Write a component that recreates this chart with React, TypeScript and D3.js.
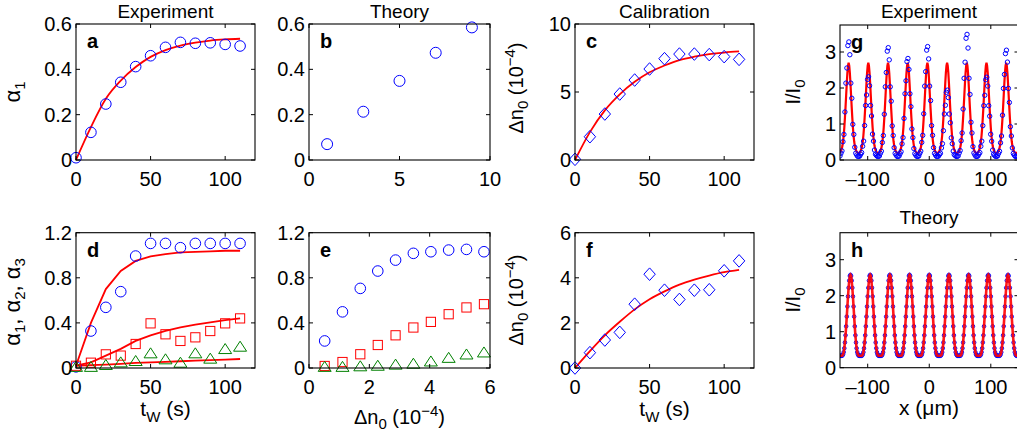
import React from "react";
import * as d3 from "d3";

const FONT = "'Liberation Sans', Arial, Helvetica, sans-serif";
const BLUE = "#0000ff";
const RED = "#ff0000";
const GREEN = "#008000";

// exposure times shared by panels a, c, d, f
const tW = [0, 10, 20, 30, 40, 50, 60, 70, 80, 90, 100, 110];

// a: alpha1 vs tW (experiment) and fit
const aAlpha1 = [0.01, 0.122, 0.247, 0.343, 0.412, 0.46, 0.497, 0.519, 0.515, 0.517, 0.51, 0.503];
const aFit = [0, 0.145, 0.27, 0.35, 0.41, 0.455, 0.485, 0.505, 0.518, 0.527, 0.532, 0.535];

// b: alpha1 vs dn0 (theory)
const bDn = [1, 3, 5, 7, 9];
const bAlpha1 = [0.07, 0.213, 0.349, 0.473, 0.585];

// c: calibration dn0 vs tW
const cDn = [0.05, 1.71, 3.38, 4.85, 5.88, 6.69, 7.45, 7.79, 7.79, 7.75, 7.6, 7.4];
const cFit = [0, 2.05, 3.65, 4.83, 5.75, 6.45, 6.95, 7.35, 7.6, 7.78, 7.9, 7.98];

// d: alpha1..3 vs tW
const dAlpha1 = [0.01, 0.328, 0.538, 0.677, 0.993, 1.105, 1.105, 1.067, 1.105, 1.105, 1.105, 1.105];
const dAlpha2 = [0.02, 0.047, 0.121, 0.11, 0.213, 0.396, 0.299, 0.24, 0.272, 0.328, 0.396, 0.44];
const dAlpha3 = [0.01, 0.01, 0.027, 0.05, 0.062, 0.13, 0.077, 0.047, 0.13, 0.083, 0.168, 0.189];
const dFit1 = [0.02, 0.4, 0.7, 0.86, 0.95, 0.99, 1.01, 1.025, 1.03, 1.035, 1.04, 1.04];
const dFit2 = [0.02, 0.05, 0.11, 0.17, 0.24, 0.29, 0.33, 0.36, 0.385, 0.405, 0.425, 0.44];
const dFit3 = [0.02, 0.025, 0.03, 0.037, 0.045, 0.05, 0.055, 0.06, 0.065, 0.07, 0.075, 0.08];

// e: alpha1..3 vs dn0 (theory)
const eDn = [0.52, 1.11, 1.7, 2.28, 2.87, 3.46, 4.04, 4.63, 5.22, 5.8];
const eAlpha1 = [0.24, 0.498, 0.706, 0.86, 0.957, 1.017, 1.031, 1.046, 1.052, 1.031];
const eAlpha2 = [0.018, 0.053, 0.122, 0.204, 0.29, 0.359, 0.409, 0.477, 0.537, 0.566];
const eAlpha3 = [0.01, 0.01, 0.015, 0.02, 0.03, 0.038, 0.058, 0.09, 0.12, 0.138];

// f: calibration dn0 vs tW
const fDn = [0, 0.68, 1.24, 1.58, 2.83, 4.16, 3.45, 3.04, 3.45, 3.47, 4.31, 4.75];
const fFit = [0, 0.75, 1.45, 2.05, 2.6, 3.05, 3.4, 3.7, 3.92, 4.1, 4.25, 4.35];

// g: measured fringes; fit profile vs distance from peak (um, 0..16)
const gPeaks = [-131, -99, -67, -35, -3, 29, 61, 93, 125];
const gFitProfile = [2.7, 2.62, 2.42, 2.13, 1.8, 1.47, 1.17, 0.9, 0.68, 0.52, 0.4, 0.32, 0.27, 0.23, 0.21, 0.2, 0.2];
const gDataHeights = [3.28, 2.31, 3.12, 2.82, 3.15, 1.94, 3.49, 2.3, 3.05];
const gDataBase = 0.1;

// h: theory fringes; profile vs distance from peak (um, 0..16)
const hPeaks = [-128, -96, -64, -32, 0, 32, 64, 96, 128];
const hProfile = [2.58, 2.55, 2.42, 2.22, 1.98, 1.7, 1.42, 1.15, 0.9, 0.7, 0.54, 0.43, 0.37, 0.34, 0.33, 0.33, 0.33];

const xTicksT = [0, 50, 100];
const xTicksB = [0, 5, 10];
const xTicksE = [0, 2, 4, 6];
const xTicksX = [-100, 0, 100];
const yTicksA = [0, 0.2, 0.4, 0.6];
const yTicksC = [0, 5, 10];
const yTicksD = [0, 0.4, 0.8, 1.2];
const yTicksF = [0, 2, 4, 6];
const yTicksI = [0, 1, 2, 3];

const fmt = (v: number) => (v < 0 ? "\u2013" + Math.abs(v) : String(v));

function Axes({ x, y, xTicks, yTicks, letter, children }: any) {
  const [x0, x1] = x.range();
  const [y1, y0] = y.range();
  const tl = 4;
  return (
    <g>
      {children}
      <rect x={x0} y={y0} width={x1 - x0} height={y1 - y0} fill="none" stroke="#000" strokeWidth={1.1} />
      {xTicks.map((t: number) => (
        <g key={"x" + t}>
          <line x1={x(t)} x2={x(t)} y1={y1} y2={y1 - tl} stroke="#000" />
          <line x1={x(t)} x2={x(t)} y1={y0} y2={y0 + tl} stroke="#000" />
          <text x={x(t)} y={y1 + 26} textAnchor="middle" fontSize={20}>{fmt(t)}</text>
        </g>
      ))}
      {yTicks.map((t: number) => (
        <g key={"y" + t}>
          <line x1={x0} x2={x0 + tl} y1={y(t)} y2={y(t)} stroke="#000" />
          <line x1={x1} x2={x1 - tl} y1={y(t)} y2={y(t)} stroke="#000" />
          <text x={x0 - 4} y={y(t) + 7} textAnchor="end" fontSize={20}>{fmt(t)}</text>
        </g>
      ))}
      <text x={x0 + 11} y={y0 + 24} fontSize={20} fontWeight="bold">{letter}</text>
    </g>
  );
}

const circle = (cx: number, cy: number, k: any, r = 5.3) => (
  <circle key={k} cx={cx} cy={cy} r={r} fill="none" stroke={BLUE} strokeWidth={1} />
);
const square = (cx: number, cy: number, k: any) => (
  <rect key={k} x={cx - 4.6} y={cy - 4.6} width={9.2} height={9.2} fill="none" stroke={RED} strokeWidth={1} />
);
const triangle = (cx: number, cy: number, k: any) => (
  <path key={k} d={`M${cx},${cy - 5.5}L${cx + 6.5},${cy + 4.5}L${cx - 6.5},${cy + 4.5}Z`} fill="none" stroke={GREEN} strokeWidth={1} />
);
const diamond = (cx: number, cy: number, k: any) => (
  <path key={k} d={`M${cx},${cy - 6.3}L${cx + 5.7},${cy}L${cx},${cy + 6.3}L${cx - 5.7},${cy}Z`} fill="none" stroke={BLUE} strokeWidth={1} />
);

function fitPath(x: any, y: any, xs: number[], ys: number[], curve: any) {
  return d3.line<number>().x((_, i) => x(xs[i])).y((v) => y(v)).curve(curve)(ys) || "";
}

const sub = (s: string) => <tspan fontSize={15} dy={5}>{s}</tspan>;

const DnLabel = ({ transform, x, y }: any) => (
  <text transform={transform} x={x} y={y} textAnchor="middle" fontSize={20}>
    Δn{sub("0")}<tspan dy={-5}> (10</tspan><tspan fontSize={15} dy={-8}>−4</tspan><tspan dy={8}>)</tspan>
  </text>
);

export default function App() {
  const top = [24, 160];
  const bot = [232.7, 368];
  const xT = (a: number, b: number) => d3.scaleLinear().domain([0, 120]).range([a, b]);

  const xa = xT(76, 255), ya = d3.scaleLinear().domain([0, 0.6]).range([top[1], top[0]]);
  const xb = d3.scaleLinear().domain([0, 10]).range([309, 490]), yb = ya.copy();
  const xc = xT(575, 754), yc = d3.scaleLinear().domain([0, 10]).range([top[1], top[0]]);
  const xg = d3.scaleLinear().domain([-145, 145]).range([840, 1018.5]);
  const yg = d3.scaleLinear().domain([0, 3.75]).range([160, 25]);
  const xd = xT(76, 255), yd = d3.scaleLinear().domain([0, 1.2]).range([bot[1], bot[0]]);
  const xe = d3.scaleLinear().domain([0, 6]).range([309, 490]), ye = yd.copy();
  const xf = xT(575, 754), yf = d3.scaleLinear().domain([0, 6]).range([bot[1], bot[0]]);
  const xh = xg.copy();
  const yh = d3.scaleLinear().domain([0, 3.75]).range([367.7, 232.7]);

  // fringe samples built from the read peak positions and profiles
  const dist = (v: number, peaks: number[]) => d3.min(peaks, (p) => Math.abs(v - p)) as number;
  const nearestIdx = (v: number, peaks: number[]) => d3.minIndex(peaks, (p) => Math.abs(v - p));
  const xsLine = d3.range(-145, 146, 1);
  const gLine = xsLine.map((v) => [v, gFitProfile[Math.min(16, Math.round(dist(v, gPeaks)))]]);
  const gMin = gFitProfile[16], gMax = gFitProfile[0];
  const gData = d3.range(-145, 146, 1.6).map((v) => {
    const k = nearestIdx(v, gPeaks);
    const n = (gFitProfile[Math.min(16, Math.round(dist(v, gPeaks)))] - gMin) / (gMax - gMin);
    return [v, gDataBase + (gDataHeights[k] - gDataBase) * n];
  });
  const hLine = xsLine.map((v) => [v, hProfile[Math.min(16, Math.round(dist(v, hPeaks)))]]);

  const line2 = (x: any, y: any) => d3.line<number[]>().x((p) => x(p[0])).y((p) => y(p[1]));

  return (
    <svg width={1017} height={440} style={{ position: "absolute", left: 0, top: 0, background: "#fff" }}
      fontFamily={FONT} fill="#000">
      <defs>
        <clipPath id="clipG"><rect x={840} y={25} width={180} height={135} /></clipPath>
        <clipPath id="clipH"><rect x={840} y={232.7} width={180} height={135} /></clipPath>
      </defs>

      {/* titles */}
      <text x={165.5} y={17.5} textAnchor="middle" fontSize={19}>Experiment</text>
      <text x={399.5} y={17.5} textAnchor="middle" fontSize={19}>Theory</text>
      <text x={664.5} y={17.5} textAnchor="middle" fontSize={19}>Calibration</text>
      <text x={929} y={17.5} textAnchor="middle" fontSize={19}>Experiment</text>
      <text x={929} y={224} textAnchor="middle" fontSize={19}>Theory</text>

      {/* a */}
      <Axes x={xa} y={ya} xTicks={xTicksT} yTicks={yTicksA} letter="a">
        <path d={fitPath(xa, ya, tW, aFit, d3.curveMonotoneX)} fill="none" stroke={RED} strokeWidth={1.8} />
        {aAlpha1.map((v, i) => circle(xa(tW[i]), ya(v), i))}
      </Axes>
      <text transform={`translate(20,92) rotate(-90)`} textAnchor="middle" fontSize={22}>α{sub("1")}</text>

      {/* b */}
      <Axes x={xb} y={yb} xTicks={xTicksB} yTicks={yTicksA} letter="b">
        {bAlpha1.map((v, i) => circle(xb(bDn[i]), yb(v), i, 5.5))}
      </Axes>

      {/* c */}
      <Axes x={xc} y={yc} xTicks={xTicksT} yTicks={yTicksC} letter="c">
        <path d={fitPath(xc, yc, tW, cFit, d3.curveMonotoneX)} fill="none" stroke={RED} strokeWidth={1.8} />
        {cDn.map((v, i) => diamond(xc(tW[i]), yc(v), i))}
      </Axes>
      <DnLabel transform="translate(523,88) rotate(-90)" x={0} y={0} />

      {/* g */}
      <Axes x={xg} y={yg} xTicks={xTicksX} yTicks={yTicksI} letter="g">
        <g clipPath="url(#clipG)">
          <path d={line2(xg, yg)(gLine) || ""} fill="none" stroke={RED} strokeWidth={2.2} />
          {gData.map((p, i) => circle(xg(p[0]), yg(p[1]), i, 2.2))}
        </g>
      </Axes>
      <text transform={`translate(800,92) rotate(-90)`} textAnchor="middle" fontSize={20}>I/I{sub("0")}</text>

      {/* d */}
      <Axes x={xd} y={yd} xTicks={xTicksT} yTicks={yTicksD} letter="d">
        {[dFit1, dFit2, dFit3].map((f, j) => (
          <path key={j} d={fitPath(xd, yd, tW, f, d3.curveLinear)} fill="none" stroke={RED} strokeWidth={1.8} />
        ))}
        {dAlpha1.map((v, i) => circle(xd(tW[i]), yd(v), "c" + i))}
        {dAlpha2.map((v, i) => square(xd(tW[i]), yd(v), "s" + i))}
        {dAlpha3.map((v, i) => triangle(xd(tW[i]), yd(v), "t" + i))}
      </Axes>
      <text transform={`translate(20,302) rotate(-90)`} textAnchor="middle" fontSize={22}>
        α{sub("1")}<tspan dy={-5}>, α</tspan>{sub("2")}<tspan dy={-5}>, α</tspan>{sub("3")}
      </text>
      <text x={165.5} y={416} textAnchor="middle" fontSize={21}>
        t<tspan fontSize={15} dy={6}>W</tspan><tspan dy={-6}> (s)</tspan>
      </text>

      {/* e */}
      <Axes x={xe} y={ye} xTicks={xTicksE} yTicks={yTicksD} letter="e">
        {eAlpha1.map((v, i) => circle(xe(eDn[i]), ye(v), "c" + i))}
        {eAlpha2.map((v, i) => square(xe(eDn[i]), ye(v), "s" + i))}
        {eAlpha3.map((v, i) => triangle(xe(eDn[i]), ye(v), "t" + i))}
      </Axes>
      <DnLabel x={399.5} y={424} />

      {/* f */}
      <Axes x={xf} y={yf} xTicks={xTicksT} yTicks={yTicksF} letter="f">
        <path d={fitPath(xf, yf, tW, fFit, d3.curveMonotoneX)} fill="none" stroke={RED} strokeWidth={1.8} />
        {fDn.map((v, i) => diamond(xf(tW[i]), yf(v), i))}
      </Axes>
      <DnLabel transform="translate(523,300) rotate(-90)" x={0} y={0} />
      <text x={664.5} y={416} textAnchor="middle" fontSize={21}>
        t<tspan fontSize={15} dy={6}>W</tspan><tspan dy={-6}> (s)</tspan>
      </text>

      {/* h */}
      <Axes x={xh} y={yh} xTicks={xTicksX} yTicks={yTicksI} letter="h">
        <g clipPath="url(#clipH)">
          {hLine.map((p, i) => (
            <circle key={i} cx={xh(p[0])} cy={yh(p[1])} r={1.8} fill="#8c8cff" stroke={BLUE} strokeWidth={0.9} />
          ))}
          <path d={line2(xh, yh)(hLine) || ""} fill="none" stroke={RED} strokeWidth={2.6} strokeOpacity={0.9} />
        </g>
      </Axes>
      <text transform={`translate(800,300) rotate(-90)`} textAnchor="middle" fontSize={20}>I/I{sub("0")}</text>
      <text x={929} y={415} textAnchor="middle" fontSize={21}>x (μm)</text>
    </svg>
  );
}
